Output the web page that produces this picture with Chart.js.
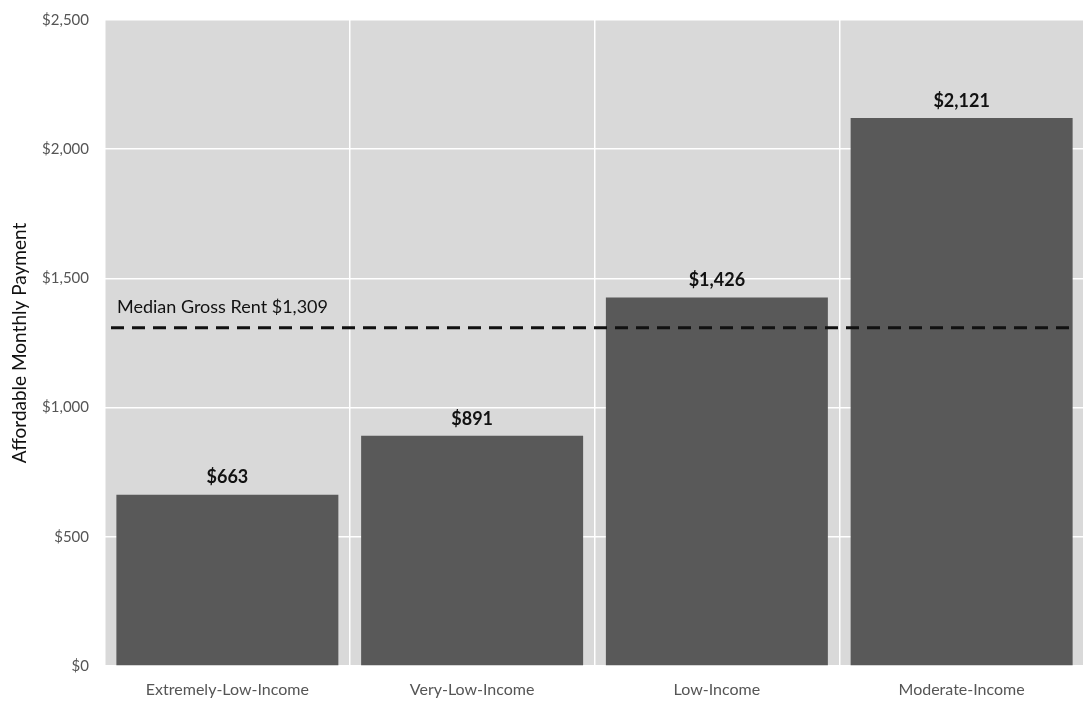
<!DOCTYPE html>
<html>
<head>
<meta charset="utf-8">
<script src="https://cdn.jsdelivr.net/npm/chart.js@4/dist/chart.umd.min.js"></script>
<style>
  html, body { margin: 0; padding: 0; background: #ffffff; overflow: hidden; }
  #wrap { width: 1084px; height: 701px; position: relative; }
</style>
</head>
<body>
<div id="wrap"><canvas id="chart"></canvas></div>
<script>
// Income categories and the monthly housing payment each can afford
const categories = ['Extremely-Low-Income', 'Very-Low-Income', 'Low-Income', 'Moderate-Income'];
const affordablePayment = [663, 891, 1426, 2121];
const yTickValues = [0, 500, 1000, 1500, 2000, 2500];
const medianRentLabel = 'Median Gross Rent $1,309';
const medianRent = [1309];

const FONT = 'Lato, "Open Sans", sans-serif';
const fmt = v => '$' + Number(v).toLocaleString('en-US');

// Gray panel behind the plot area
const panelBg = {
  id: 'panelBg',
  beforeDraw(chart) {
    const { ctx, chartArea: a } = chart;
    ctx.save();
    ctx.fillStyle = '#d9d9d9';
    ctx.fillRect(a.left, a.top, a.right - a.left, a.bottom - a.top);
    ctx.restore();
  }
};

// Dashed median-rent reference line with its caption
const medianLine = {
  id: 'medianLine',
  afterDatasetsDraw(chart) {
    const { ctx, chartArea: a, scales } = chart;
    const y = scales.y.getPixelForValue(medianRent[0]);
    ctx.save();
    ctx.strokeStyle = '#111111';
    ctx.lineWidth = 3;
    ctx.setLineDash([13, 8]);
    ctx.beginPath();
    ctx.moveTo(a.left + 6, y);
    ctx.lineTo(a.right - 8, y);
    ctx.stroke();
    ctx.setLineDash([]);
    ctx.fillStyle = '#111111';
    ctx.font = '18px ' + FONT;
    ctx.textAlign = 'left';
    ctx.textBaseline = 'bottom';
    ctx.fillText(medianRentLabel, a.left + 12, y - 12);
    ctx.restore();
  }
};

// Dollar value above each bar
const valueLabels = {
  id: 'valueLabels',
  afterDatasetsDraw(chart) {
    const { ctx } = chart;
    const meta = chart.getDatasetMeta(0);
    ctx.save();
    ctx.fillStyle = '#111111';
    ctx.font = 'bold 18px ' + FONT;
    ctx.textAlign = 'center';
    ctx.textBaseline = 'bottom';
    meta.data.forEach((bar, i) => {
      ctx.fillText(fmt(affordablePayment[i]), bar.x, bar.y - 8);
    });
    ctx.restore();
  }
};

new Chart(document.getElementById('chart'), {
  type: 'bar',
  data: {
    labels: categories,
    datasets: [{
      data: affordablePayment,
      backgroundColor: '#595959',
      borderWidth: 0,
      barPercentage: 0.907,
      categoryPercentage: 1.0
    }]
  },
  options: {
    responsive: true,
    maintainAspectRatio: false,
    animation: false,
    layout: { padding: { top: 20, right: 0, bottom: 0, left: 8 } },
    plugins: {
      legend: { display: false },
      tooltip: { enabled: false }
    },
    scales: {
      x: {
        offset: true,
        afterFit(scale) {
          scale.height = 35;
          scale.paddingTop = 0;
          scale.paddingBottom = 0;
        },
        grid: {
          offset: true,
          color: '#ffffff',
          lineWidth: 1.5,
          drawTicks: false
        },
        border: { display: false },
        ticks: {
          color: '#555555',
          font: { family: FONT, size: 16 },
          padding: 14
        }
      },
      y: {
        min: 0,
        max: 2500,
        afterBuildTicks(scale) {
          scale.ticks = yTickValues.map(v => ({ value: v }));
        },
        afterFit(scale) {
          scale.width = 97;
          scale.paddingTop = 0;
          scale.paddingBottom = 0;
        },
        grid: {
          color: '#ffffff',
          lineWidth: 1.5,
          drawTicks: false
        },
        border: { display: false },
        ticks: {
          color: '#555555',
          font: { family: FONT, size: 15 },
          padding: 16,
          callback: v => fmt(v)
        },
        title: {
          display: true,
          text: 'Affordable Monthly Payment',
          color: '#111111',
          font: { family: FONT, size: 19 },
          padding: { top: 0, bottom: 2 }
        }
      }
    }
  },
  plugins: [panelBg, medianLine, valueLabels]
});
</script>
</body>
</html>
